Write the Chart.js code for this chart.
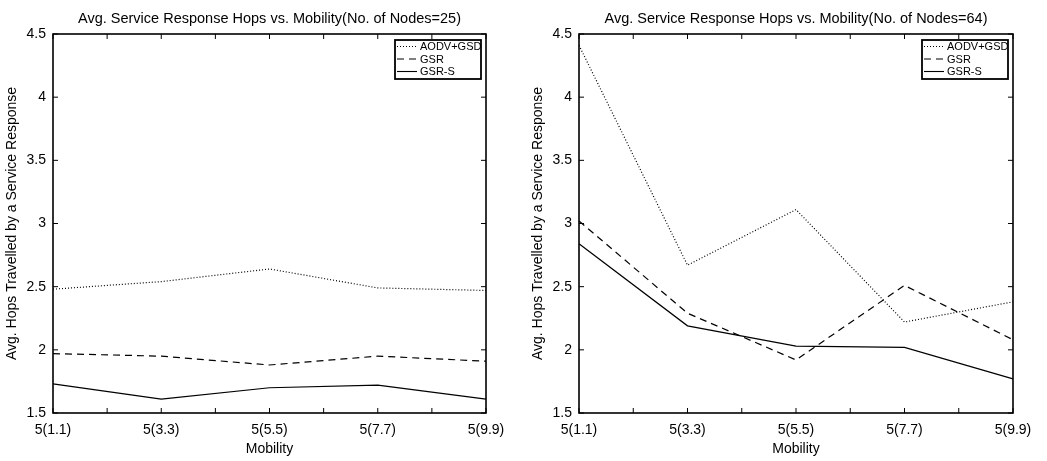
<!DOCTYPE html>
<html>
<head>
<meta charset="utf-8">
<script src="https://cdn.jsdelivr.net/npm/chart.js@4/dist/chart.umd.min.js"></script>
<style>
  html, body { margin: 0; padding: 0; background: #fff; }
  .wrap { position: absolute; top: 0; height: 461px; }
  #w1 { left: 0; width: 520px; }
  #w2 { left: 526px; width: 521px; }
</style>
</head>
<body>
<div class="wrap" id="w1"><canvas id="chart25"></canvas></div>
<div class="wrap" id="w2"><canvas id="chart64"></canvas></div>
<script>
const mobility = ["5(1.1)", "5(3.3)", "5(5.5)", "5(7.7)", "5(9.9)"];
const seriesNames = ["AODV+GSD", "GSR", "GSR-S"];

// No. of Nodes = 25
const aodv25 = [2.48, 2.54, 2.64, 2.49, 2.47];
const gsr25 = [1.97, 1.95, 1.88, 1.95, 1.91];
const gsrs25 = [1.73, 1.61, 1.70, 1.72, 1.61];

// No. of Nodes = 64
const aodv64 = [4.41, 2.67, 3.11, 2.22, 2.38];
const gsr64 = [3.02, 2.29, 1.92, 2.51, 2.08];
const gsrs64 = [2.84, 2.19, 2.03, 2.02, 1.77];

const yTicks = [1.5, 2, 2.5, 3, 3.5, 4, 4.5];

const FONT = "'Liberation Sans', Arial, Helvetica, sans-serif";
const dashes = [[1, 2], [7, 5], []];

// matlab style box, inward ticks and a boxed legend in the top right corner
const matlabBox = {
    id: "matlabBox",
    afterDraw(chart) {
        const ctx = chart.ctx;
        const a = chart.chartArea;
        const xs = chart.scales.x;
        const ys = chart.scales.y;
        const tl = 5;

        ctx.save();
        ctx.strokeStyle = "#000";
        ctx.lineWidth = 1;

        // x ticks at categories and between them
        const px = mobility.map((m, i) => xs.getPixelForValue(i));
        const xt = [];
        px.forEach((p, i) => {
            xt.push(p);
            if (i < px.length - 1) xt.push((p + px[i + 1]) / 2);
        });
        ctx.beginPath();
        xt.forEach(p => {
            ctx.moveTo(p, a.bottom);
            ctx.lineTo(p, a.bottom - tl);
            ctx.moveTo(p, a.top);
            ctx.lineTo(p, a.top + tl);
        });
        yTicks.forEach(v => {
            const p = ys.getPixelForValue(v);
            ctx.moveTo(a.left, p);
            ctx.lineTo(a.left + tl, p);
            ctx.moveTo(a.right, p);
            ctx.lineTo(a.right - tl, p);
        });
        ctx.stroke();

        ctx.lineWidth = 1.6;
        ctx.strokeRect(a.left, a.top, a.right - a.left, a.bottom - a.top);

        // legend
        const bw = 86, bh = 39;
        const bx = a.right - bw - 5, by = a.top + 6;
        ctx.fillStyle = "#fff";
        ctx.fillRect(bx, by, bw, bh);
        ctx.lineWidth = 1.8;
        ctx.strokeRect(bx, by, bw, bh);
        ctx.font = "11px " + FONT;
        ctx.textBaseline = "middle";
        ctx.fillStyle = "#000";
        chart.data.datasets.forEach((ds, i) => {
            const ly = by + 6.5 + i * 12.5;
            ctx.beginPath();
            ctx.lineWidth = 1.1;
            ctx.setLineDash(ds.borderDash || []);
            ctx.moveTo(bx + 2, ly);
            ctx.lineTo(bx + 22, ly);
            ctx.stroke();
            ctx.setLineDash([]);
            ctx.fillText(ds.label, bx + 25, ly + 0.5);
        });
        ctx.restore();
    }
};

function makeChart(id, title, series) {
    new Chart(document.getElementById(id), {
        type: "line",
        data: {
            labels: mobility,
            datasets: series.map((d, i) => ({
                label: seriesNames[i],
                data: d,
                borderColor: "#000",
                borderWidth: 1.2,
                borderDash: dashes[i],
                pointRadius: 0,
                tension: 0,
                fill: false
            }))
        },
        options: {
            responsive: true,
            maintainAspectRatio: false,
            animation: false,
            layout: {
                padding: { left: 0, right: 34, top: 0, bottom: 0 }
            },
            scales: {
                x: {
                    offset: false,
                    grid: { display: false, drawTicks: false },
                    border: { display: false },
                    ticks: {
                        color: "#000",
                        padding: 9,
                        maxRotation: 0,
                        font: { family: FONT, size: 14 }
                    },
                    title: {
                        display: true,
                        text: "Mobility",
                        color: "#000",
                        padding: { top: 0, bottom: 3 },
                        font: { family: FONT, size: 14 }
                    },
                    afterFit(scale) { scale.height = 48; }
                },
                y: {
                    min: 1.5,
                    max: 4.5,
                    grid: { display: false, drawTicks: false },
                    border: { display: false },
                    ticks: {
                        stepSize: 0.5,
                        color: "#000",
                        padding: 7,
                        font: { family: FONT, size: 14 },
                        callback: v => String(v)
                    },
                    title: {
                        display: true,
                        text: "Avg. Hops Travelled by a Service Response",
                        color: "#000",
                        padding: { top: 4, bottom: 0 },
                        font: { family: FONT, size: 14 }
                    },
                    afterFit(scale) { scale.width = 53; }
                }
            },
            plugins: {
                legend: { display: false },
                tooltip: { enabled: false },
                title: {
                    display: true,
                    text: title,
                    color: "#000",
                    fullSize: false,
                    padding: { top: 10, bottom: 6.6 },
                    font: { family: FONT, size: 14.5, weight: "normal" }
                }
            }
        },
        plugins: [matlabBox]
    });
}

makeChart("chart25", "Avg. Service Response Hops vs. Mobility(No. of Nodes=25)", [aodv25, gsr25, gsrs25]);
makeChart("chart64", "Avg. Service Response Hops vs. Mobility(No. of Nodes=64)", [aodv64, gsr64, gsrs64]);
</script>
</body>
</html>
